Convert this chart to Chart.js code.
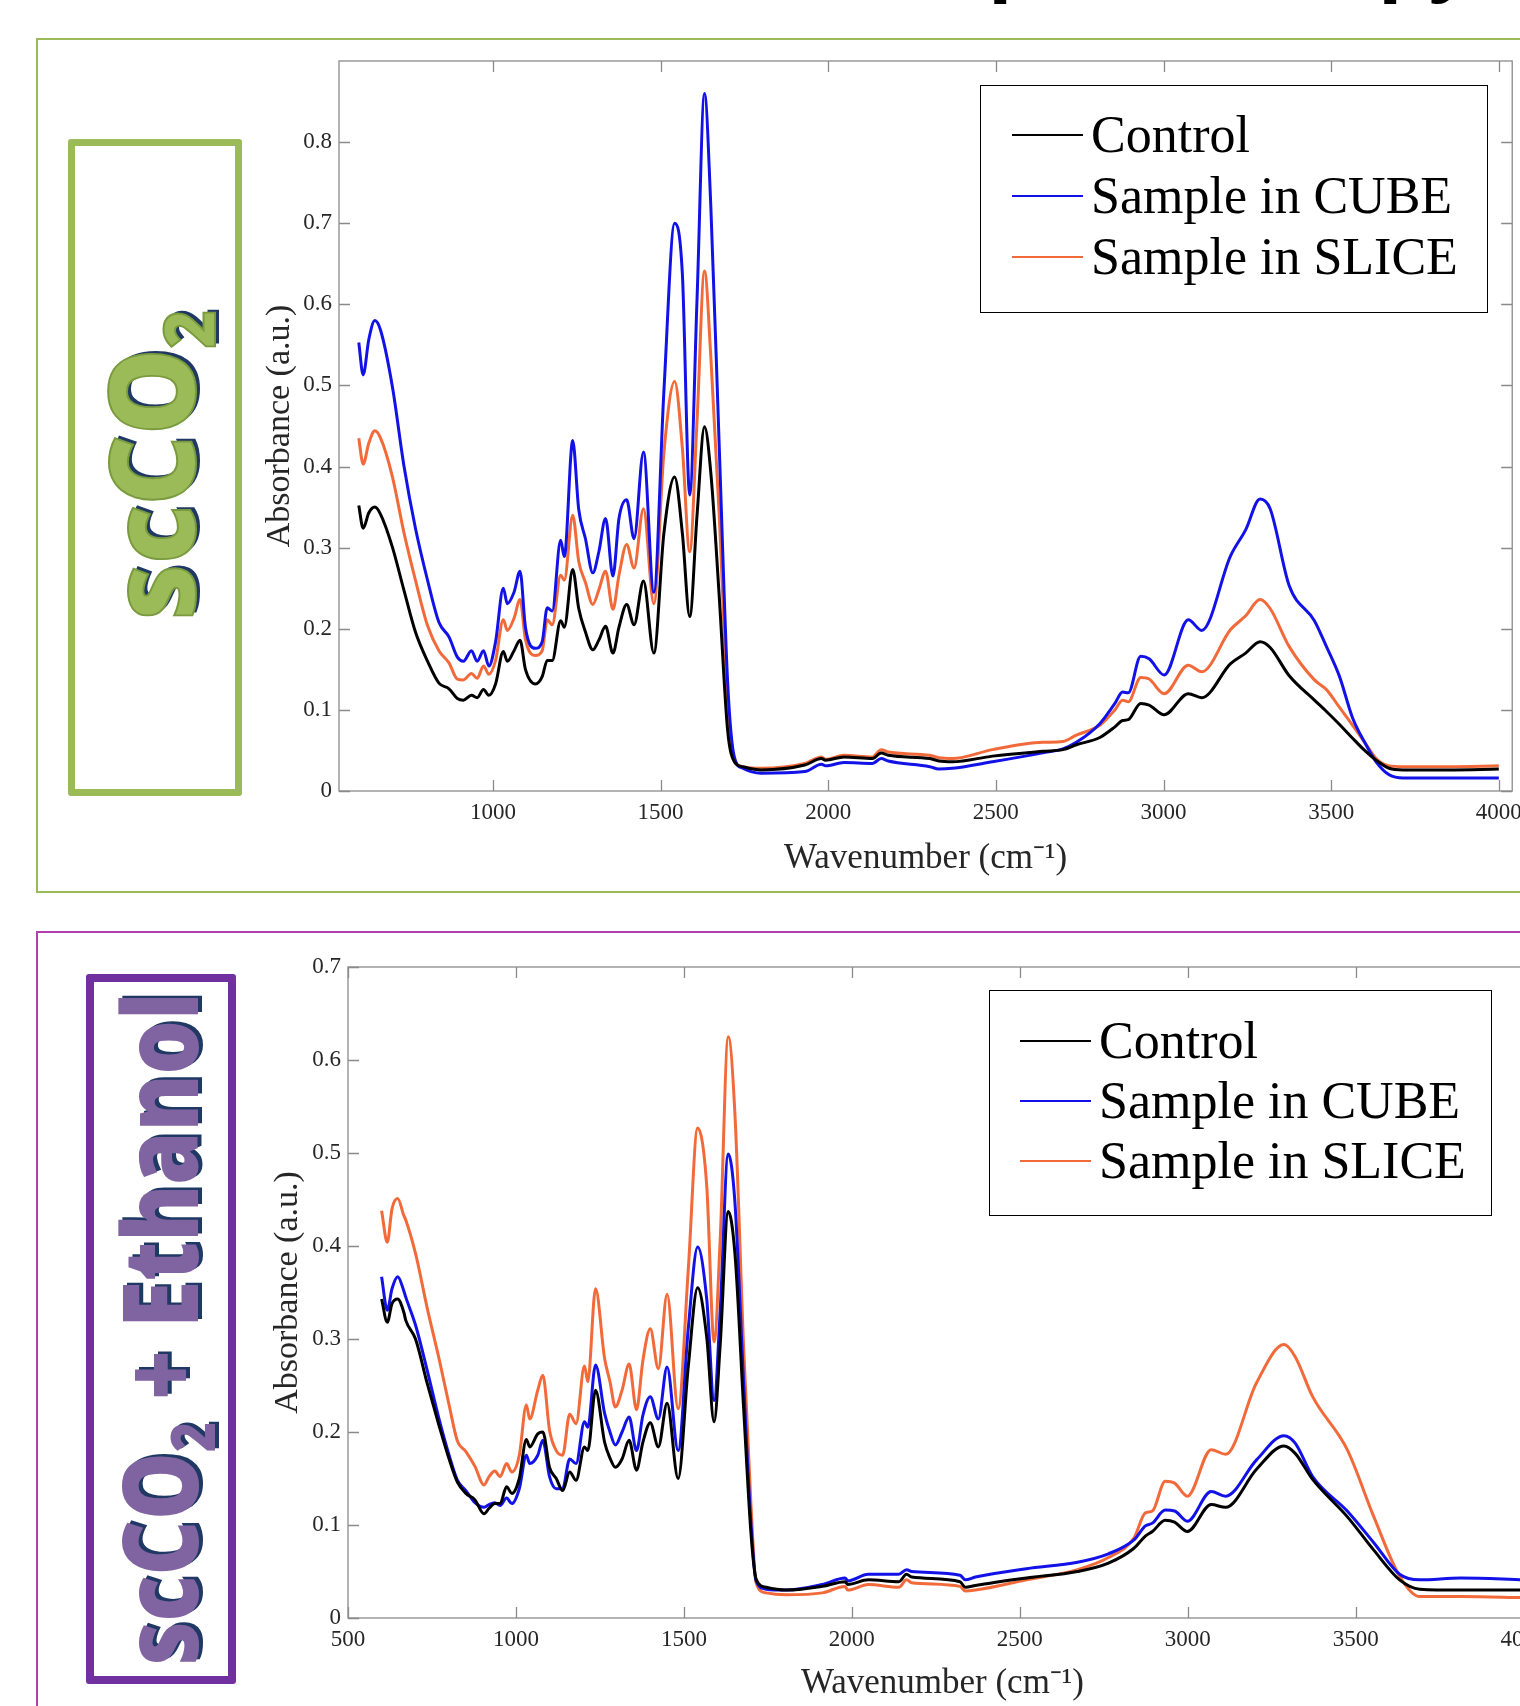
<!DOCTYPE html>
<html>
<head>
<meta charset="utf-8">
<script src="https://cdn.jsdelivr.net/npm/chart.js@4.4.1/dist/chart.umd.min.js"></script>
<style>
html, body { margin: 0; padding: 0; width: 1520px; height: 1706px; overflow: hidden; background: #fff; }
.abs { position: absolute; box-sizing: border-box; }
#header { left: 944px; top: -86px; font: 700 80px/80px 'Open Sans', sans-serif; color: #000; white-space: nowrap; }
#frameTop { left: 36px; top: 38px; width: 1540px; height: 855px; border: 2px solid #9bbb59; }
#frameBottom { left: 36px; top: 931px; width: 1540px; height: 900px; border: 2px solid #b23fb2; }
#boxTop { left: 68px; top: 139px; width: 174px; height: 657px; border: 7px solid #9bbb59; border-radius: 3px; }
#boxBottom { left: 86px; top: 974px; width: 150px; height: 710px; border: 8px solid #7030a0; border-radius: 3px; }
.side { position: absolute; white-space: nowrap; line-height: 1; font-family: 'Open Sans', sans-serif; font-weight: 800; }
.side .sub { font-size: 0.6em; position: relative; top: 0.28em; }
#sideTop { left: 150px; top: 465px; font-size: 118px; color: #9bbb59; text-shadow: 3px 4px 0 #1f3864;
  -webkit-text-stroke: 2px #7a9a3e; transform: translate(-50%, -50%) rotate(-90deg) scaleX(0.92); }
#sideBottom { left: 158px; top: 1329px; font-size: 104px; color: #8064a2; text-shadow: 3px 4px 0 #1f3864;
  transform: translate(-50%, -50%) rotate(-90deg) scaleX(0.82); }
canvas { position: absolute; }
#chartTop { left: 230px; top: 40px; }
#chartBottom { left: 230px; top: 940px; }
.legend { position: absolute; box-sizing: border-box; border: 1.5px solid #000; background: #fff;
  font-family: 'Liberation Serif', 'Times New Roman', serif; font-size: 52px; color: #000; }
.legend .row { position: absolute; left: 0; height: 61px; display: flex; align-items: center; white-space: nowrap; }
.legend .swatch { width: 71px; height: 2px; margin-right: 8px; }
#legendTop { left: 980px; top: 85px; width: 508px; height: 228px; }
#legendBottom { left: 989px; top: 990px; width: 503px; height: 226px; }
</style>
</head>
<body>
<div id="header" class="abs">Spectroscopy</div>
<div id="frameTop" class="abs"></div>
<div id="frameBottom" class="abs"></div>
<div id="boxTop" class="abs"></div>
<div id="boxBottom" class="abs"></div>
<div id="sideTop" class="side">scCO<span class="sub">2</span></div>
<div id="sideBottom" class="side">scCO<span class="sub">2</span> + Ethanol</div>
<canvas id="chartTop" width="1300" height="850"></canvas>
<canvas id="chartBottom" width="1330" height="766"></canvas>
<div id="legendTop" class="legend"></div>
<div id="legendBottom" class="legend"></div>
<script>
const seriesNames = ['Control', 'Sample in CUBE', 'Sample in SLICE'];

// scCO2 panel
const topWave = [600, 613, 630, 648, 665, 700, 735, 769, 805, 839, 869, 894, 912, 936, 953, 972, 988, 1008,
  1031, 1043, 1063, 1081, 1097, 1127, 1147, 1162, 1177, 1202, 1213, 1238, 1256, 1276, 1298, 1316, 1336, 1358,
  1376, 1399, 1421, 1449, 1480, 1510, 1542, 1565, 1587, 1609, 1631, 1650, 1675, 1700, 1720, 1745, 1800, 1930,
  1980, 1992, 2047, 2132, 2158, 2179, 2303, 2330, 2370, 2490, 2640, 2700, 2740, 2810, 2855, 2878, 2895, 2932,
  2957, 3002, 3074, 3114, 3200, 3245, 3288, 3318, 3375, 3450, 3486, 3525, 3564, 3600, 3634, 3673, 3715, 3850, 4000];
const topControl = [0.352, 0.324, 0.343, 0.350, 0.341, 0.301, 0.247, 0.196, 0.160, 0.133, 0.126, 0.114, 0.112, 0.118, 0.115, 0.125, 0.118, 0.132,
  0.172, 0.160, 0.173, 0.186, 0.150, 0.132, 0.141, 0.161, 0.161, 0.210, 0.202, 0.273, 0.225, 0.196, 0.174, 0.186, 0.203, 0.170,
  0.202, 0.230, 0.205, 0.259, 0.170, 0.318, 0.387, 0.318, 0.215, 0.341, 0.449, 0.392, 0.240, 0.075, 0.036, 0.030, 0.026, 0.032,
  0.040, 0.038, 0.042, 0.040, 0.047, 0.044, 0.040, 0.037, 0.036, 0.043, 0.049, 0.051, 0.057, 0.066, 0.079, 0.087, 0.088, 0.108,
  0.106, 0.094, 0.120, 0.115, 0.157, 0.170, 0.184, 0.177, 0.142, 0.112, 0.098, 0.082, 0.065, 0.050, 0.038, 0.028, 0.026, 0.026, 0.027];
const topCube = [0.553, 0.513, 0.557, 0.580, 0.568, 0.499, 0.400, 0.324, 0.260, 0.208, 0.190, 0.165, 0.160, 0.173, 0.160, 0.173, 0.154, 0.184,
  0.250, 0.231, 0.245, 0.271, 0.202, 0.176, 0.184, 0.226, 0.222, 0.309, 0.289, 0.432, 0.347, 0.311, 0.269, 0.295, 0.336, 0.265,
  0.336, 0.359, 0.311, 0.418, 0.245, 0.493, 0.700, 0.638, 0.365, 0.609, 0.860, 0.720, 0.425, 0.135, 0.042, 0.028, 0.022, 0.024,
  0.033, 0.031, 0.035, 0.034, 0.040, 0.037, 0.030, 0.027, 0.028, 0.036, 0.047, 0.052, 0.060, 0.083, 0.108, 0.122, 0.121, 0.166,
  0.163, 0.143, 0.211, 0.198, 0.290, 0.322, 0.360, 0.348, 0.253, 0.210, 0.178, 0.141, 0.090, 0.060, 0.036, 0.020, 0.016, 0.016, 0.016];
const topSlice = [0.435, 0.403, 0.429, 0.444, 0.435, 0.388, 0.318, 0.260, 0.204, 0.173, 0.158, 0.138, 0.137, 0.145, 0.139, 0.154, 0.144, 0.161,
  0.211, 0.198, 0.213, 0.236, 0.187, 0.167, 0.173, 0.211, 0.205, 0.266, 0.260, 0.340, 0.283, 0.257, 0.230, 0.248, 0.271, 0.224,
  0.266, 0.304, 0.275, 0.348, 0.231, 0.417, 0.505, 0.423, 0.295, 0.458, 0.641, 0.535, 0.340, 0.110, 0.038, 0.030, 0.028, 0.034,
  0.042, 0.039, 0.044, 0.042, 0.051, 0.048, 0.044, 0.041, 0.040, 0.051, 0.060, 0.061, 0.069, 0.081, 0.100, 0.112, 0.110, 0.140,
  0.138, 0.120, 0.155, 0.147, 0.199, 0.216, 0.236, 0.225, 0.178, 0.137, 0.125, 0.103, 0.081, 0.060, 0.040, 0.031, 0.030, 0.030, 0.031];
const topXTicks = [1000, 1500, 2000, 2500, 3000, 3500, 4000];
const topYTicks = [0, 0.1, 0.2, 0.3, 0.4, 0.5, 0.6, 0.7, 0.8];

// scCO2 + Ethanol panel
const bottomWave = [600, 617, 631, 648, 666, 672, 701, 736, 771, 801, 826, 851, 878, 905, 920, 937, 953, 972, 988,
  1010, 1031, 1041, 1065, 1080, 1100, 1120, 1139, 1160, 1179, 1204, 1214, 1237, 1264, 1280, 1296, 1316, 1337, 1359,
  1378, 1400, 1424, 1450, 1483, 1513, 1541, 1568, 1590, 1608, 1632, 1652, 1678, 1700, 1715, 1745, 1805, 1912, 1980,
  1988, 2049, 2140, 2163, 2178, 2322, 2338, 2368, 2520, 2672, 2764, 2840, 2874, 2895, 2933, 2961, 2999, 3070, 3113,
  3205, 3287, 3320, 3372, 3475, 3554, 3631, 3691, 3813, 4000];
const bottomControl = [0.343, 0.318, 0.338, 0.343, 0.329, 0.320, 0.300, 0.252, 0.207, 0.171, 0.146, 0.134, 0.127, 0.112, 0.118, 0.123, 0.123, 0.141, 0.134,
  0.150, 0.192, 0.184, 0.198, 0.200, 0.162, 0.150, 0.137, 0.157, 0.148, 0.184, 0.180, 0.245, 0.189, 0.172, 0.162, 0.171, 0.191, 0.159,
  0.189, 0.210, 0.184, 0.231, 0.150, 0.270, 0.355, 0.302, 0.211, 0.293, 0.437, 0.392, 0.225, 0.090, 0.042, 0.033, 0.030, 0.034, 0.039,
  0.036, 0.041, 0.039, 0.047, 0.044, 0.039, 0.033, 0.035, 0.043, 0.050, 0.059, 0.075, 0.088, 0.093, 0.105, 0.103, 0.093, 0.122, 0.119,
  0.160, 0.185, 0.177, 0.149, 0.109, 0.073, 0.041, 0.031, 0.030, 0.030];
const bottomCube = [0.367, 0.331, 0.354, 0.367, 0.352, 0.345, 0.315, 0.266, 0.214, 0.175, 0.148, 0.137, 0.124, 0.119, 0.122, 0.124, 0.121, 0.129, 0.123,
  0.139, 0.175, 0.166, 0.175, 0.191, 0.152, 0.139, 0.139, 0.171, 0.166, 0.211, 0.205, 0.272, 0.220, 0.200, 0.186, 0.200, 0.216, 0.180,
  0.218, 0.238, 0.214, 0.270, 0.180, 0.311, 0.399, 0.343, 0.234, 0.329, 0.499, 0.447, 0.252, 0.100, 0.040, 0.031, 0.030, 0.036, 0.043,
  0.040, 0.047, 0.047, 0.052, 0.050, 0.046, 0.041, 0.044, 0.053, 0.060, 0.069, 0.084, 0.099, 0.102, 0.116, 0.115, 0.104, 0.136, 0.131,
  0.170, 0.196, 0.188, 0.152, 0.115, 0.081, 0.047, 0.041, 0.043, 0.041];
const bottomSlice = [0.438, 0.404, 0.440, 0.451, 0.433, 0.428, 0.392, 0.333, 0.279, 0.229, 0.190, 0.179, 0.163, 0.143, 0.152, 0.158, 0.152, 0.166, 0.157,
  0.175, 0.229, 0.214, 0.245, 0.261, 0.202, 0.180, 0.175, 0.219, 0.209, 0.271, 0.254, 0.354, 0.279, 0.254, 0.227, 0.245, 0.273, 0.224,
  0.277, 0.311, 0.268, 0.348, 0.225, 0.374, 0.527, 0.465, 0.297, 0.406, 0.625, 0.542, 0.290, 0.120, 0.038, 0.027, 0.025, 0.027, 0.034,
  0.030, 0.036, 0.033, 0.041, 0.038, 0.034, 0.029, 0.030, 0.041, 0.052, 0.065, 0.086, 0.113, 0.115, 0.147, 0.145, 0.131, 0.181, 0.176,
  0.253, 0.294, 0.281, 0.238, 0.181, 0.109, 0.045, 0.023, 0.023, 0.022];
const bottomXTicks = [500, 1000, 1500, 2000, 2500, 3000, 3500, 4000];
const bottomYTicks = [0, 0.1, 0.2, 0.3, 0.4, 0.5, 0.6, 0.7];

const colors = ['#000000', '#1212e8', '#f26a3a'];
const serif = "'Liberation Serif', 'Times New Roman', serif";

// MATLAB-style box with inward tick marks
const boxTicks = {
  id: 'boxTicks',
  afterDraw(chart) {
    const { ctx, chartArea: a, scales: { x, y } } = chart;
    ctx.save();
    ctx.strokeStyle = '#8a8a8a';
    ctx.lineWidth = 1.3;
    ctx.strokeRect(a.left, a.top, a.right - a.left, a.bottom - a.top);
    ctx.beginPath();
    x.ticks.forEach(t => {
      const px = Math.round(x.getPixelForValue(t.value)) + 0.5;
      ctx.moveTo(px, a.bottom); ctx.lineTo(px, a.bottom - 11);
      ctx.moveTo(px, a.top); ctx.lineTo(px, a.top + 11);
    });
    y.ticks.forEach(t => {
      const py = Math.round(y.getPixelForValue(t.value)) + 0.5;
      ctx.moveTo(a.left, py); ctx.lineTo(a.left + 11, py);
      ctx.moveTo(a.right, py); ctx.lineTo(a.right - 11, py);
    });
    ctx.stroke();
    ctx.restore();
  }
};

function buildChart(id, wave, series, opts) {
  const datasets = series.map((vals, i) => ({
    label: seriesNames[i],
    data: wave.map((w, j) => ({ x: w, y: vals[j] })),
    borderColor: colors[i],
    borderWidth: opts.lineWidth,
    pointRadius: 0,
    tension: 0.4,
    cubicInterpolationMode: 'monotone'
  }));
  return new Chart(document.getElementById(id), {
    type: 'line',
    data: { datasets },
    plugins: [boxTicks],
    options: {
      responsive: false,
      animation: false,
      layout: { padding: opts.padding },
      plugins: { legend: { display: false }, tooltip: { enabled: false } },
      scales: {
        x: {
          type: 'linear',
          min: opts.xMin,
          max: opts.xMax,
          afterFit: s => { s.height = opts.xHeight; },
          afterBuildTicks: s => { s.ticks = opts.xTicks.map(v => ({ value: v })); },
          grid: { display: false, drawTicks: false, tickLength: 0 },
          border: { display: false },
          ticks: { callback: v => String(v), padding: 8, maxRotation: 0, autoSkip: false,
            color: '#262626', font: { family: serif, size: 23 } },
          title: { display: true, text: 'Wavenumber (cm\u207B\u00B9)', color: '#262626',
            font: { family: serif, size: 35 }, padding: { top: 0, bottom: opts.xTitlePad } }
        },
        y: {
          min: 0,
          max: opts.yMax,
          afterFit: s => { s.width = opts.yWidth; },
          afterBuildTicks: s => { s.ticks = opts.yTicks.map(v => ({ value: v })); },
          grid: { display: false, drawTicks: false, tickLength: 0 },
          border: { display: false },
          ticks: { callback: v => String(v), padding: 7, autoSkip: false,
            color: '#262626', font: { family: serif, size: 23 } },
          title: { display: true, text: 'Absorbance (a.u.)', color: '#262626',
            font: { family: serif, size: 34 }, padding: { top: opts.yTitlePad, bottom: 0 } }
        }
      }
    }
  });
}

function buildLegend(id, chart, rowTops, swatchLeft) {
  const box = document.getElementById(id);
  chart.data.datasets.forEach((ds, i) => {
    const row = document.createElement('div');
    row.className = 'row';
    row.style.top = rowTops[i] + 'px';
    row.style.left = swatchLeft + 'px';
    const sw = document.createElement('div');
    sw.className = 'swatch';
    sw.style.background = ds.borderColor;
    const txt = document.createElement('span');
    txt.textContent = ds.label;
    row.appendChild(sw);
    row.appendChild(txt);
    box.appendChild(row);
  });
}

const topChart = buildChart('chartTop', topWave, [topControl, topCube, topSlice], {
  xMin: 541, xMax: 4040, yMax: 0.9, xTicks: topXTicks, yTicks: topYTicks,
  padding: { top: 21, right: 17, left: 0, bottom: 0 },
  xHeight: 99, yWidth: 109, xTitlePad: 10, yTitlePad: 30, lineWidth: 3
});
const bottomChart = buildChart('chartBottom', bottomWave, [bottomControl, bottomCube, bottomSlice], {
  xMin: 500, xMax: 4040, yMax: 0.7, xTicks: bottomXTicks, yTicks: bottomYTicks,
  padding: { top: 27, right: 23, left: 0, bottom: 0 },
  xHeight: 88, yWidth: 118, xTitlePad: 1, yTitlePad: 38, lineWidth: 3
});

buildLegend('legendTop', topChart, [18, 79, 140], 31);
buildLegend('legendBottom', bottomChart, [19, 79, 139], 30);
</script>
</body>
</html>
